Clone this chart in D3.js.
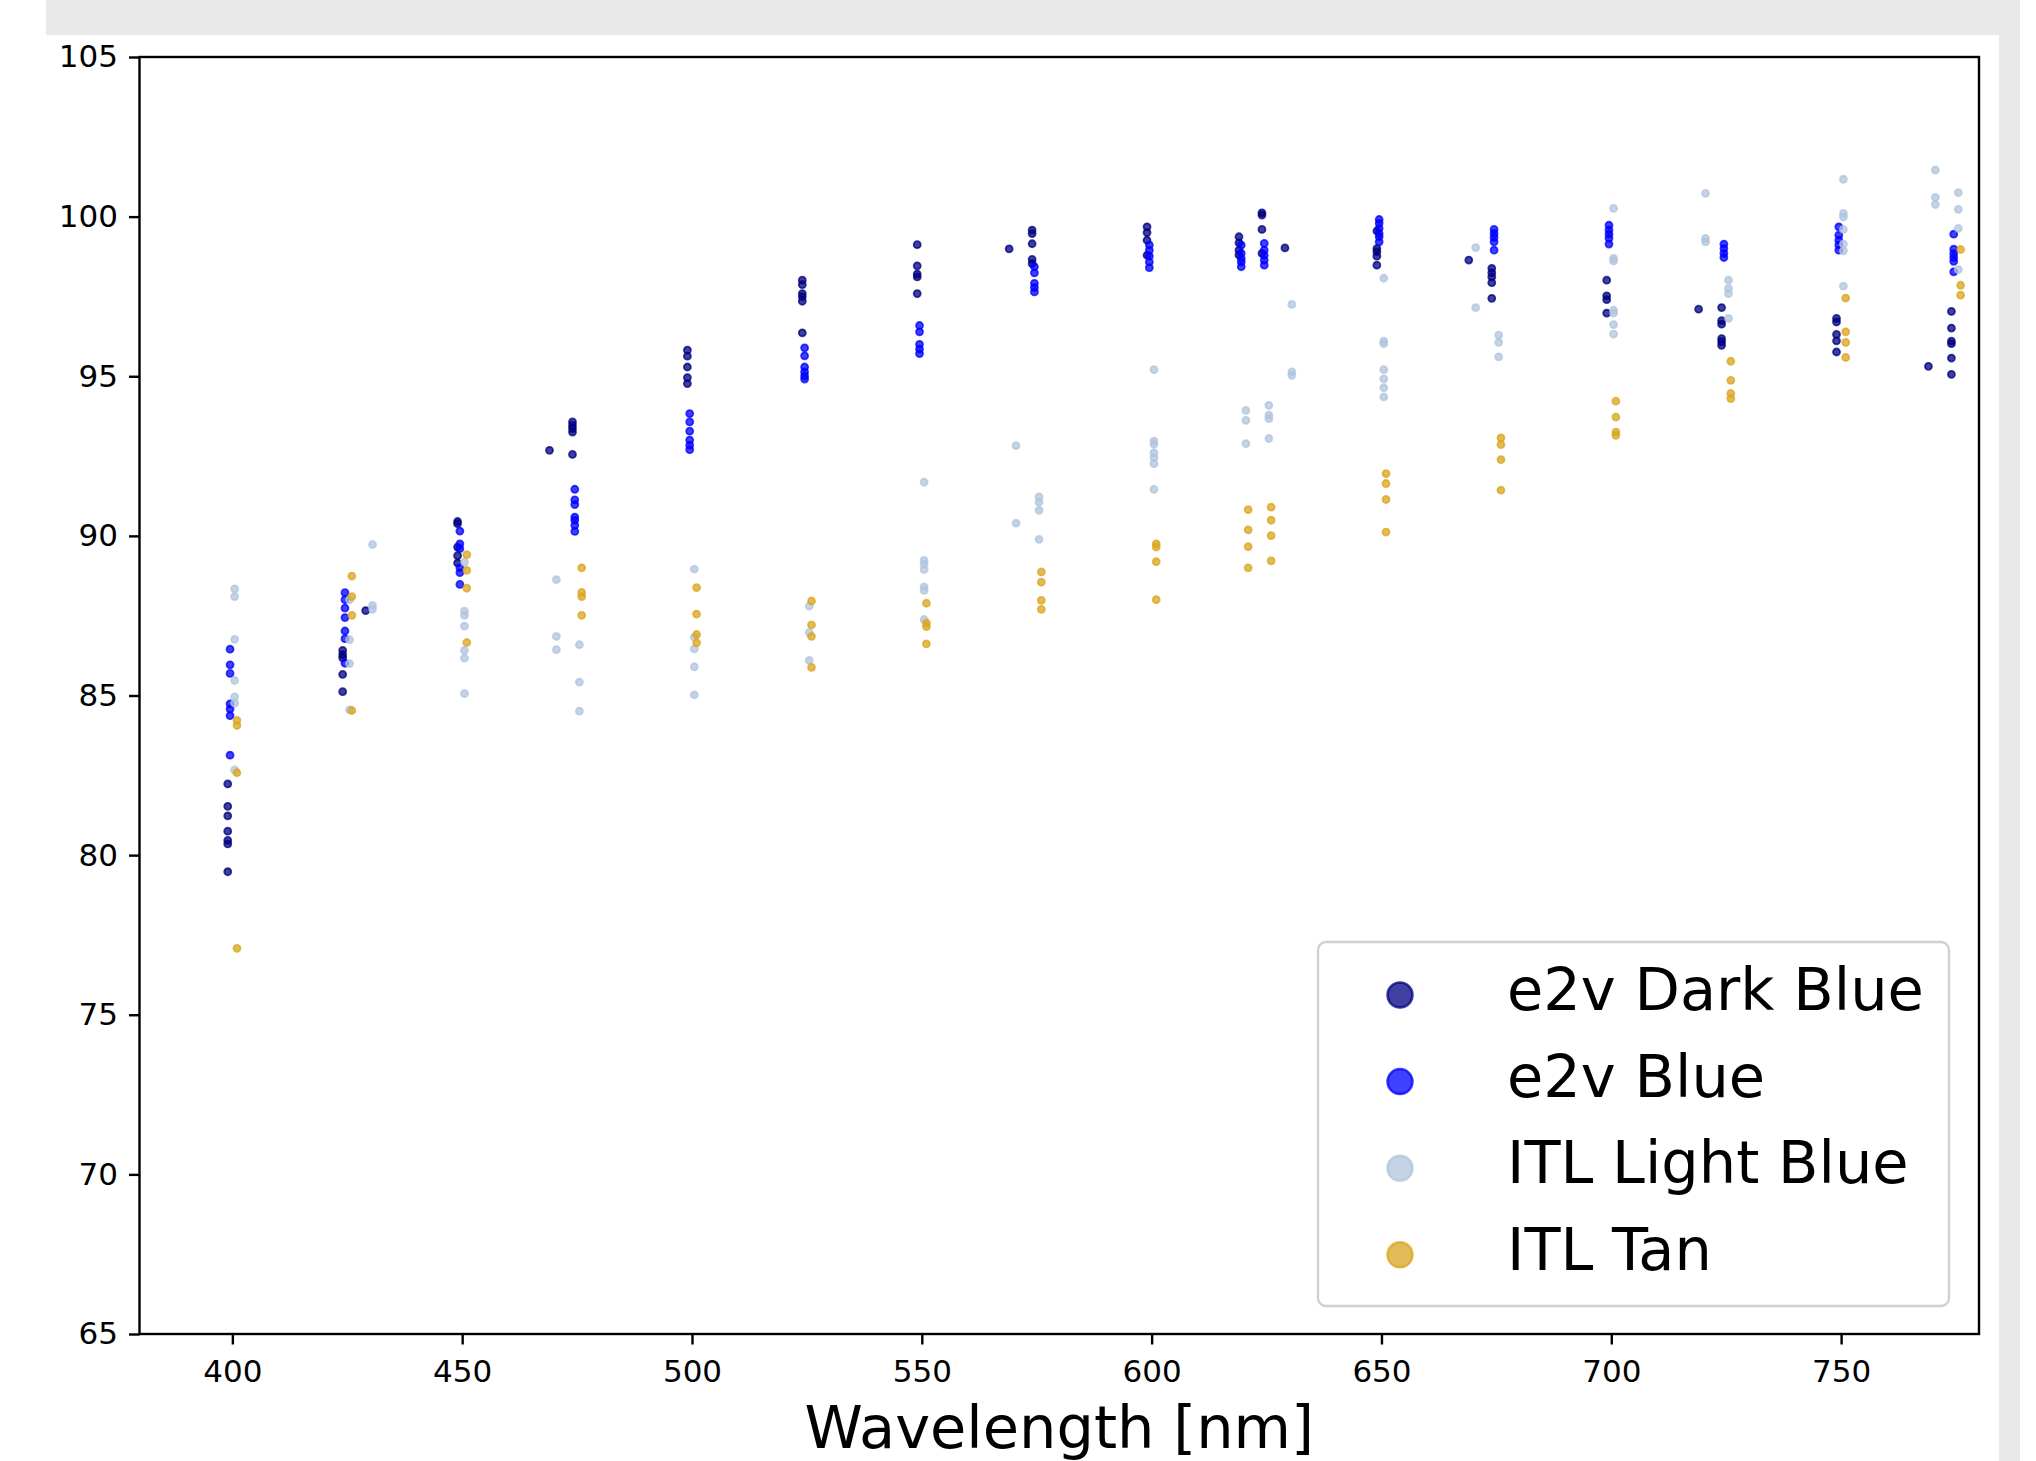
<!DOCTYPE html>
<html>
<head>
<meta charset="utf-8">
<script src="https://cdn.jsdelivr.net/npm/d3@7"></script>
<style>
  body { margin: 0; background: #fff; }
  svg { display: block; font-family: "DejaVu Sans", sans-serif; }
</style>
</head>
<body>
<svg id="chart" width="2036" height="1461"></svg>
<script>
// measured QE values, grouped by nominal wavelength [nm]
var e2vDarkBlue = [
  [400, [82.23, 81.53, 81.23, 80.75, 80.46, 80.35, 79.48]],
  [425, [86.41, 86.28, 86.18, 85.66, 85.12]],
  [430, [87.66]],
  [450, [90.45, 90.38, 89.65, 89.38, 89.15]],
  [470, [92.68]],
  [475, [93.57, 93.46, 93.36, 93.25, 92.55]],
  [500, [95.82, 95.63, 95.29, 94.96, 94.77]],
  [525, [98.01, 97.87, 97.59, 97.49, 97.35, 96.36]],
  [550, [99.12, 98.46, 98.20, 98.11, 97.59]],
  [570, [98.99]],
  [575, [99.58, 99.47, 99.15, 98.66, 98.53]],
  [600, [99.68, 99.50, 99.26, 98.79]],
  [620, [99.37, 99.18, 98.95, 98.80]],
  [625, [100.12, 100.05, 99.60, 98.85]],
  [630, [99.02]],
  [650, [99.55, 99.00, 98.90, 98.76, 98.48]],
  [670, [98.64]],
  [675, [98.38, 98.24, 98.11, 97.93, 97.44]],
  [700, [98.01, 97.52, 97.40, 96.98]],
  [720, [97.10]],
  [725, [97.15, 96.74, 96.63, 96.18, 96.08, 95.97]],
  [750, [96.81, 96.70, 96.31, 96.11, 95.76]],
  [770, [95.31]],
  [775, [97.03, 96.51, 96.10, 96.02, 95.57, 95.06]]
];

var e2vBlue = [
  [400, [86.45, 85.96, 85.69, 84.74, 84.58, 84.37, 83.13]],
  [425, [88.22, 88.00, 87.74, 87.44, 87.02, 86.78, 86.01]],
  [450, [90.15, 89.75, 89.60, 89.00, 88.85, 88.48]],
  [475, [91.46, 91.13, 90.98, 90.59, 90.49, 90.33, 90.14]],
  [500, [93.83, 93.57, 93.28, 93.00, 92.84, 92.70]],
  [525, [95.89, 95.64, 95.29, 95.14, 95.01, 94.91]],
  [550, [96.59, 96.39, 96.00, 95.85, 95.71]],
  [575, [98.43, 98.24, 97.91, 97.78, 97.64]],
  [600, [99.11, 98.95, 98.76, 98.58, 98.40]],
  [620, [99.11, 98.85, 98.69, 98.58, 98.43]],
  [625, [99.16, 98.95, 98.79, 98.64, 98.48]],
  [650, [99.91, 99.79, 99.63, 99.47, 99.37, 99.21]],
  [675, [99.60, 99.47, 99.35, 99.21, 98.95]],
  [700, [99.73, 99.58, 99.45, 99.32, 99.14]],
  [725, [99.14, 99.00, 98.85, 98.72]],
  [750, [99.68, 99.42, 99.26, 99.11, 98.95]],
  [775, [99.45, 98.98, 98.84, 98.72, 98.60, 98.27]]
];

var itlLightBlue = [
  [400, [88.34, 88.10, 86.76, 85.47, 84.96, 84.76, 82.67]],
  [425, [88.00, 86.75, 86.00, 84.55]],
  [430, [89.73, 87.82, 87.70]],
  [450, [89.18, 87.64, 87.51, 87.17, 86.41, 86.17, 85.06]],
  [470, [88.63, 86.85, 86.44]],
  [475, [86.59, 85.42, 84.51]],
  [500, [88.96, 86.83, 86.46, 85.90, 85.02]],
  [525, [87.80, 86.97, 86.10]],
  [550, [91.68, 89.23, 89.11, 88.95, 88.40, 88.29, 87.38]],
  [570, [92.83, 90.40]],
  [575, [91.22, 91.06, 90.80, 89.89]],
  [600, [95.21, 92.97, 92.87, 92.60, 92.45, 92.26, 91.46]],
  [620, [93.93, 93.62, 92.89]],
  [625, [94.09, 93.78, 93.67, 93.05]],
  [630, [97.25, 95.14, 95.03]],
  [650, [98.07, 96.10, 96.02, 95.21, 94.92, 94.64, 94.35]],
  [670, [99.03, 97.15]],
  [675, [96.29, 96.06, 95.61]],
  [700, [100.26, 98.69, 98.61, 97.07, 96.98, 96.62, 96.32]],
  [720, [100.73, 99.32, 99.21]],
  [725, [98.01, 97.75, 97.59, 96.81]],
  [750, [101.17, 100.10, 99.99, 99.60, 99.14, 98.93, 97.82]],
  [770, [101.46, 100.60, 100.38]],
  [775, [100.75, 100.23, 99.63, 98.34]]
];

var itlTan = [
  [400, [84.22, 84.06, 82.58, 77.08]],
  [425, [88.74, 88.10, 87.51, 84.53]],
  [450, [89.41, 88.92, 88.36, 86.66]],
  [475, [89.00, 88.23, 88.10, 87.51]],
  [500, [88.38, 87.55, 86.91, 86.65]],
  [525, [87.96, 87.21, 86.85, 85.88]],
  [550, [87.89, 87.27, 87.16, 86.62]],
  [575, [88.87, 88.55, 87.98, 87.70]],
  [600, [89.75, 89.65, 89.19, 88.00]],
  [620, [90.82, 90.19, 89.66, 89.00]],
  [625, [90.90, 90.49, 90.01, 89.22]],
  [650, [91.95, 91.64, 91.14, 90.12]],
  [675, [93.07, 92.86, 92.39, 91.43]],
  [700, [94.22, 93.72, 93.25, 93.15]],
  [725, [95.47, 94.87, 94.46, 94.30]],
  [750, [97.45, 96.39, 96.06, 95.59]],
  [775, [98.97, 97.85, 97.54]]
];

var seriesNames = ["e2v Dark Blue", "e2v Blue", "ITL Light Blue", "ITL Tan"];
var seriesColors = ["navy", "blue", "lightsteelblue", "goldenrod"];
var seriesShift = [-1, -0.5, 0.5, 1];   // small x offset so groups don't overlap
var seriesData = [e2vDarkBlue, e2vBlue, itlLightBlue, itlTan];

var xTicks = [400, 450, 500, 550, 600, 650, 700, 750];
var yTicks = [65, 70, 75, 80, 85, 90, 95, 100, 105];

var svg = d3.select("#chart");

// grey strips from the screenshot
svg.append("rect").attr("x", 46).attr("y", 0).attr("width", 1974).attr("height", 35)
  .style("fill", "#e9e9e9");
svg.append("rect").attr("x", 1999).attr("y", 0).attr("width", 21).attr("height", 1461)
  .style("fill", "#e9e9e9");

var plotLeft = 139.5, plotRight = 1979, plotTop = 57, plotBottom = 1334;

var x = d3.scaleLinear().domain([379.8, 780]).range([plotLeft, plotRight]);
var y = d3.scaleLinear().domain([65, 105]).range([plotBottom, plotTop]);

// points
seriesData.forEach(function(ser, i) {
  var pts = [];
  ser.forEach(function(g) {
    g[1].forEach(function(v) { pts.push({ w: g[0] + seriesShift[i], v: v }); });
  });
  svg.append("g").selectAll("circle")
    .data(pts)
    .enter()
    .append("circle")
    .attr("cx", function(d) { return x(d.w); })
    .attr("cy", function(d) { return y(d.v); })
    .attr("r", 3.5)
    .style("fill", seriesColors[i])
    .style("fill-opacity", 0.75)
    .style("stroke", seriesColors[i])
    .style("stroke-opacity", 0.75)
    .style("stroke-width", 1.8);
});

// axes
var xAxis = svg.append("g")
  .attr("transform", "translate(0," + plotBottom + ")")
  .call(d3.axisBottom(x).tickValues(xTicks).tickSize(10.5).tickPadding(15).tickFormat(d3.format("d")));
var yAxis = svg.append("g")
  .attr("transform", "translate(" + plotLeft + ",0)")
  .call(d3.axisLeft(y).tickValues(yTicks).tickSize(10.5).tickPadding(11).tickFormat(d3.format("d")));

[xAxis, yAxis].forEach(function(a) {
  a.select(".domain").remove();
  a.selectAll("line").style("stroke", "#000").style("stroke-width", 2.4);
  a.selectAll("text").style("font-size", "31px").style("fill", "#000")
    .style("font-family", "'DejaVu Sans', sans-serif");
});

// frame
svg.append("rect")
  .attr("x", plotLeft).attr("y", plotTop)
  .attr("width", plotRight - plotLeft).attr("height", plotBottom - plotTop)
  .style("fill", "none").style("stroke", "#000").style("stroke-width", 2.4);

svg.append("text")
  .attr("x", (plotLeft + plotRight) / 2)
  .attr("y", 1448)
  .attr("text-anchor", "middle")
  .style("font-size", "59px")
  .text("Wavelength [nm]");

// legend
var legend = svg.append("g");
legend.append("rect")
  .attr("x", 1318).attr("y", 942)
  .attr("width", 631).attr("height", 364)
  .attr("rx", 8)
  .style("fill", "#fff").style("fill-opacity", 0.8)
  .style("stroke", "#d0d0d0").style("stroke-width", 2.4);

seriesNames.forEach(function(name, i) {
  var cy = 995 + i * 86.6;
  legend.append("circle")
    .attr("cx", 1400).attr("cy", cy).attr("r", 12.5)
    .style("fill", seriesColors[i]).style("fill-opacity", 0.75)
    .style("stroke", seriesColors[i]).style("stroke-opacity", 0.75)
    .style("stroke-width", 2.5);
  legend.append("text")
    .attr("x", 1507).attr("y", cy + 15)
    .style("font-size", "59px")
    .text(name);
});
</script>
</body>
</html>
